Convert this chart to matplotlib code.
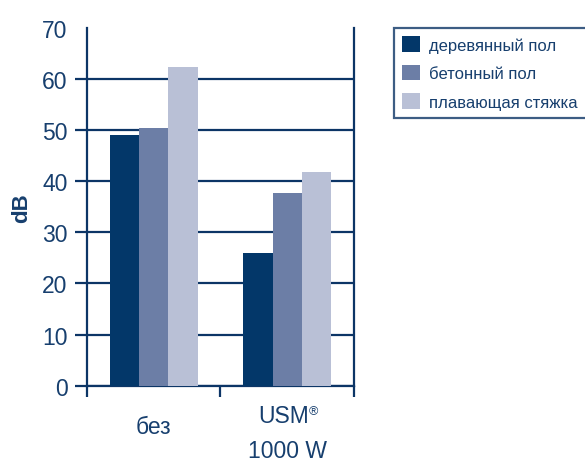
import matplotlib
matplotlib.use("Agg")
import matplotlib.pyplot as plt
import numpy as np
from matplotlib.patches import Patch

plt.rcParams['font.family'] = ['Liberation Sans', 'DejaVu Sans']

categories = ["без", "USM®\n1000 W"]
series_names = ["деревянный пол", "бетонный пол", "плавающая стяжка"]
wood = [49.0, 26.0]
concrete = [50.5, 37.8]
floating = [62.3, 41.8]
yticks = [0, 10, 20, 30, 40, 50, 60, 70]

colors = ["#033769", "#6c7ea6", "#b9c0d6"]
navy = "#0c3566"
textc = "#173f6e"

fig = plt.figure(figsize=(5.85, 4.64), dpi=100)
ax = fig.add_axes([0.1487, 0.1666, 0.4564, 0.7709])

x = np.arange(len(categories))
w = 0.22
for i, (vals, c, name) in enumerate(zip([wood, concrete, floating], colors, series_names)):
    ax.bar(x + (i - 1) * w, vals, width=w, color=c, label=name, zorder=3, linewidth=0)

ax.set_xlim(-0.5, 1.5)
ax.set_ylim(0, 70)
ax.set_yticks(yticks)
ax.set_yticklabels([str(t) for t in yticks], fontsize=16.5, color=textc)
ax.tick_params(axis='y', length=9, width=1.6, color=navy, pad=5)
ax.yaxis.grid(True, color=navy, linewidth=1.6, zorder=1)
ax.set_axisbelow(True)
t70 = ax.yaxis.get_major_ticks()[-1]
t70.tick1line.set_visible(False)
t70.gridline.set_visible(False)

for s in ['left', 'right', 'bottom']:
    ax.spines[s].set_color(navy)
    ax.spines[s].set_linewidth(1.6)
ax.spines['top'].set_visible(False)

ax.set_xticks([])
ax.set_xticks([-0.5, 0.5, 1.5], minor=True)
ax.tick_params(axis='x', which='minor', length=8, width=1.6, color=navy)

trans = matplotlib.transforms.blended_transform_factory(ax.transData, fig.transFigure)
ax.text(0, 1 - 428 / 464, categories[0], transform=trans, ha='center', va='center',
        fontsize=16.5, color=textc)
lines = categories[1].split("\n")
main = lines[0].rstrip("®")
usm = ax.text(0.97, 1 - 417 / 464, main, transform=trans, ha='center', va='center',
              fontsize=16.5, color=textc)
ax.annotate("®", xy=(1.0, 0.98), xycoords=usm, ha='left', va='top',
            fontsize=9, color=textc)
ax.text(1, 1 - 452 / 464, lines[1], transform=trans, ha='center', va='center',
        fontsize=16.5, color=textc)

fig.text(22 / 585, 1 - 208 / 464, "dB", rotation=90, ha='center', va='center',
         fontsize=16, fontweight='bold', color=textc)

handles = [Patch(facecolor=c, edgecolor='none') for c in colors]
leg = fig.legend(handles, series_names, loc='upper left',
                 bbox_to_anchor=(394 / 585, 1 - 29 / 464, 0.40, 0.0), mode='expand',
                 fontsize=12, frameon=True, fancybox=False, handlelength=1.05,
                 handleheight=1.05, handletextpad=0.55, labelspacing=0.72,
                 borderpad=0.5, borderaxespad=0)
leg.get_frame().set_edgecolor(navy)
leg.get_frame().set_linewidth(1.6)
for t in leg.get_texts():
    t.set_color(textc)

fig.savefig("out.png", dpi=100)
